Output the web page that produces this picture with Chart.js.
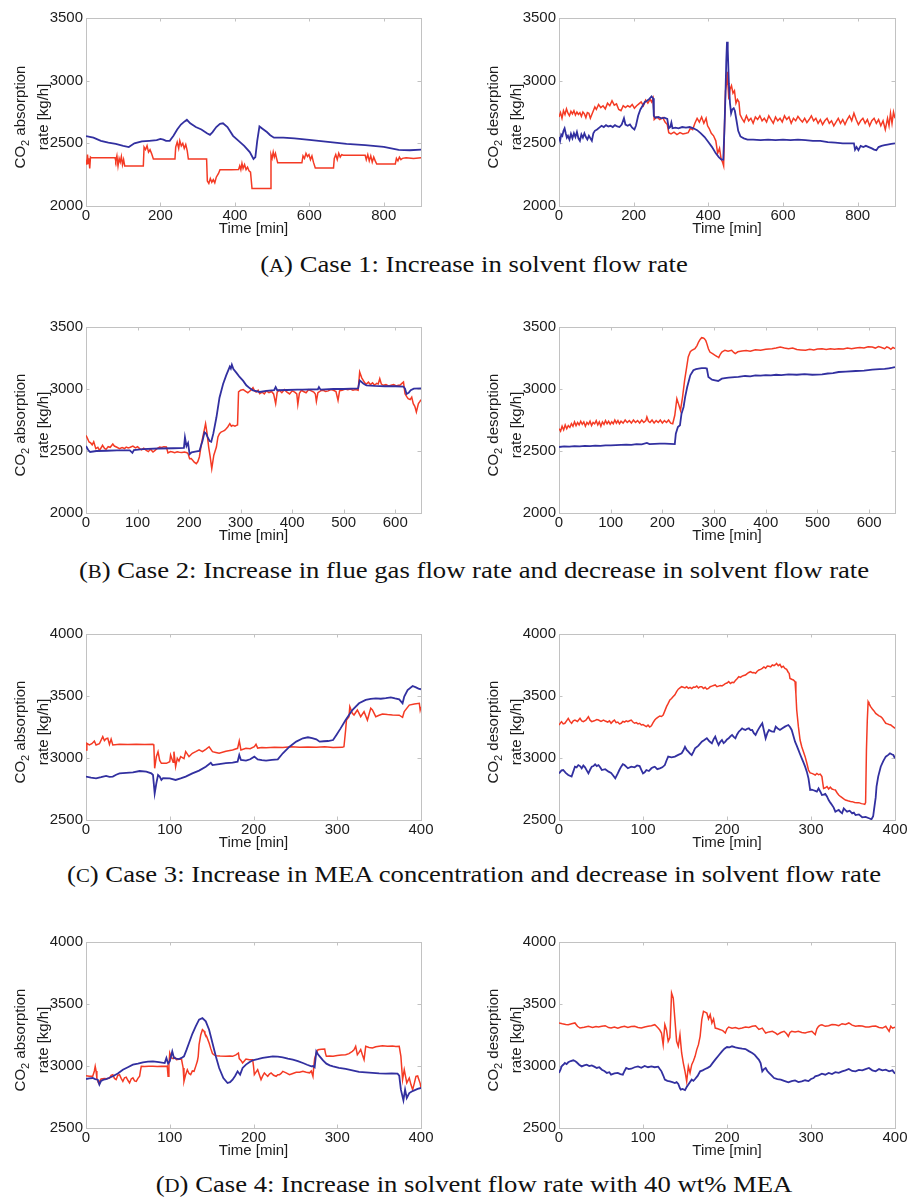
<!DOCTYPE html>
<html>
<head>
<meta charset="utf-8">
<script src="https://cdn.jsdelivr.net/npm/chart.js@4.4.0/dist/chart.umd.min.js"></script>
<style>
  html, body { margin: 0; padding: 0; background: #ffffff; }
  body { width: 909px; height: 1199px; position: relative; overflow: hidden; }
  canvas.panel { position: absolute; }
  .caption {
    position: absolute; left: 474px; transform: translateX(-50%) scaleX(1.16);
    white-space: nowrap; font-family: "Liberation Serif", "DejaVu Serif", serif;
    font-size: 23px; line-height: 23px; color: #111111;
  }
  .caption .sc { font-size: 0.78em; }
</style>
</head>
<body>
<div class="caption" id="capA" style="top:252.7px">(<span class="sc">A</span>) Case 1: Increase in solvent flow rate</div>
<div class="caption" id="capB" style="top:558.7px">(<span class="sc">B</span>) Case 2: Increase in flue gas flow rate and decrease in solvent flow rate</div>
<div class="caption" id="capC" style="top:862.7px">(<span class="sc">C</span>) Case 3: Increase in MEA concentration and decrease in solvent flow rate</div>
<div class="caption" id="capD" style="top:1172.7px">(<span class="sc">D</span>) Case 4: Increase in solvent flow rate with 40 wt% MEA</div>
<script>
// ---- time series: [time (min), CO2 rate (kg/h)] ----

// Case 1 – absorption
const case1AbsModel = [[0,2558],[20,2545],[40,2520],[60,2505],[80,2495],[100,2480],[115,2470],[130,2500],[150,2515],[170,2520],[190,2525],[200,2535],[208,2530],[215,2520],[225,2520],[235,2560],[245,2610],[255,2650],[265,2675],[271,2688],[280,2660],[295,2630],[310,2610],[325,2580],[333,2568],[340,2590],[350,2630],[360,2655],[368,2660],[380,2630],[395,2560],[410,2520],[425,2480],[440,2430],[450,2375],[455,2390],[460,2520],[466,2635],[475,2615],[486,2590],[495,2565],[505,2545],[530,2545],[560,2540],[600,2528],[650,2512],[700,2496],[750,2485],[800,2472],[820,2460],[840,2448],[870,2445],[900,2450]];
const case1AbsPlant = [[0,2370],[2,2330],[4,2410],[6,2340],[8,2380],[10,2300],[12,2390],[14,2385],[40,2385],[78,2385],[80,2360],[83,2400],[86,2320],[89,2380],[92,2350],[95,2395],[98,2330],[101,2370],[104,2320],[120,2320],[154,2320],[156,2470],[160,2450],[164,2480],[168,2430],[172,2450],[176,2420],[181,2375],[210,2375],[239,2375],[241,2470],[245,2510],[249,2460],[252,2520],[256,2480],[260,2500],[264,2460],[268,2490],[272,2440],[275,2375],[300,2375],[324,2375],[326,2200],[330,2180],[334,2220],[338,2190],[342,2210],[346,2185],[350,2230],[356,2260],[360,2290],[390,2290],[410,2292],[413,2320],[416,2290],[419,2340],[422,2300],[426,2330],[430,2290],[434,2310],[438,2280],[442,2270],[446,2140],[470,2140],[495,2140],[497,2410],[500,2380],[503,2430],[506,2390],[509,2420],[512,2380],[515,2345],[545,2345],[580,2345],[583,2400],[587,2380],[591,2420],[595,2395],[599,2410],[603,2370],[607,2400],[611,2350],[616,2304],[640,2304],[665,2304],[667,2380],[671,2410],[675,2370],[679,2420],[683,2390],[687,2410],[691,2405],[720,2405],[750,2405],[753,2370],[757,2410],[761,2360],[765,2400],[769,2350],[773,2390],[777,2360],[781,2335],[810,2335],[831,2335],[834,2380],[838,2360],[842,2390],[846,2370],[850,2380],[860,2385],[880,2380],[900,2385]];

// Case 1 – desorption
const case1DesModel = [[0,2550],[3,2520],[6,2570],[9,2560],[12,2600],[15,2620],[18,2580],[21,2545],[24,2560],[28,2530],[32,2575],[36,2540],[40,2580],[44,2550],[48,2590],[52,2540],[56,2520],[60,2570],[64,2545],[68,2580],[72,2550],[76,2530],[80,2560],[84,2540],[88,2520],[92,2580],[96,2600],[102,2610],[108,2625],[114,2640],[120,2630],[126,2645],[132,2635],[138,2640],[144,2630],[150,2645],[156,2635],[162,2630],[168,2650],[174,2700],[178,2650],[184,2640],[190,2650],[196,2625],[202,2610],[206,2640],[212,2720],[218,2770],[224,2800],[230,2830],[236,2840],[242,2855],[248,2875],[252,2860],[254,2720],[258,2705],[266,2710],[274,2700],[282,2705],[290,2695],[294,2620],[298,2630],[301,2665],[304,2620],[312,2625],[320,2620],[330,2630],[340,2625],[350,2630],[360,2620],[370,2605],[380,2580],[390,2550],[400,2510],[410,2470],[420,2420],[428,2390],[435,2370],[440,2370],[443,2600],[446,2900],[448,3150],[450,3310],[452,3250],[455,2980],[458,2820],[461,2740],[464,2770],[468,2780],[471,2760],[475,2690],[480,2600],[486,2555],[495,2540],[505,2530],[520,2530],[540,2525],[560,2530],[580,2525],[600,2530],[620,2525],[640,2530],[660,2525],[680,2520],[700,2520],[720,2510],[740,2505],[760,2500],[780,2500],[790,2500],[793,2450],[797,2470],[802,2445],[808,2480],[815,2470],[822,2480],[830,2470],[838,2460],[844,2450],[850,2445],[856,2470],[864,2480],[872,2485],[880,2490],[890,2495],[900,2500]];
const case1DesPlant = [[0,2710],[4,2745],[8,2700],[12,2760],[16,2730],[20,2775],[24,2740],[28,2720],[32,2755],[36,2735],[40,2760],[44,2725],[48,2750],[52,2730],[56,2745],[60,2715],[64,2750],[68,2735],[72,2705],[76,2745],[80,2740],[84,2700],[88,2730],[92,2760],[96,2790],[100,2770],[106,2810],[112,2785],[118,2800],[124,2775],[130,2820],[136,2800],[142,2840],[148,2805],[154,2815],[160,2770],[166,2760],[172,2800],[178,2785],[184,2800],[190,2790],[196,2810],[202,2780],[208,2800],[214,2815],[220,2830],[226,2800],[232,2845],[238,2820],[244,2850],[248,2830],[252,2860],[255,2690],[262,2710],[270,2690],[278,2705],[284,2670],[290,2650],[294,2585],[300,2575],[308,2590],[316,2570],[324,2585],[332,2575],[340,2580],[346,2585],[352,2620],[358,2610],[364,2660],[370,2700],[376,2670],[382,2710],[388,2660],[394,2700],[398,2640],[402,2620],[408,2580],[414,2560],[420,2520],[425,2420],[430,2460],[434,2380],[438,2350],[441,2320],[443,2600],[446,2920],[449,2980],[451,3070],[453,2950],[455,2850],[458,2930],[462,2960],[466,2900],[470,2920],[474,2820],[478,2850],[482,2830],[485,2730],[490,2700],[496,2670],[502,2720],[508,2680],[514,2700],[520,2660],[526,2710],[532,2690],[538,2720],[544,2680],[550,2700],[556,2670],[562,2720],[568,2690],[574,2660],[580,2710],[586,2680],[592,2700],[598,2670],[604,2720],[610,2690],[616,2710],[622,2660],[628,2700],[634,2680],[640,2715],[646,2690],[652,2670],[658,2700],[664,2665],[670,2690],[676,2720],[682,2680],[688,2700],[694,2660],[700,2690],[706,2650],[712,2680],[718,2700],[724,2660],[730,2680],[736,2640],[742,2670],[748,2700],[754,2660],[760,2690],[766,2650],[772,2690],[778,2720],[784,2680],[790,2740],[796,2690],[802,2650],[808,2680],[814,2700],[820,2660],[826,2690],[832,2640],[838,2680],[844,2700],[850,2660],[856,2690],[862,2640],[868,2680],[874,2610],[880,2700],[884,2640],[888,2740],[892,2660],[896,2750],[900,2700]];

// Case 2 – absorption
const case2AbsModel = [[0,2540],[4,2510],[8,2492],[20,2500],[40,2502],[60,2505],[85,2505],[90,2485],[93,2508],[110,2515],[140,2520],[170,2522],[190,2525],[192,2610],[195,2540],[198,2565],[201,2475],[205,2490],[212,2495],[220,2500],[226,2580],[230,2650],[233,2640],[236,2612],[240,2580],[243,2575],[247,2640],[253,2770],[259,2930],[266,3040],[272,3110],[276,3150],[279,3180],[281,3165],[283,3195],[286,3160],[292,3130],[298,3097],[305,3065],[311,3030],[318,3005],[324,2989],[337,2976],[350,2985],[365,2990],[368,3015],[371,2990],[390,2992],[410,2995],[420,2995],[450,2998],[452,3015],[455,2995],[480,3000],[500,3000],[528,3005],[531,3070],[538,3045],[544,3030],[560,3025],[580,3022],[600,3022],[616,3020],[619,3003],[622,2960],[626,2970],[630,2990],[636,3003],[650,3005]];
const case2AbsPlant = [[0,2626],[3,2600],[6,2573],[9,2565],[12,2550],[15,2575],[19,2519],[23,2530],[26,2505],[30,2530],[32,2546],[36,2520],[39,2513],[43,2535],[47,2530],[52,2556],[55,2540],[60,2530],[65,2519],[70,2528],[75,2520],[78,2532],[82,2525],[86,2530],[91,2540],[96,2525],[100,2535],[104,2519],[108,2510],[112,2522],[117,2505],[121,2495],[125,2515],[130,2492],[134,2505],[138,2520],[143,2532],[147,2528],[151,2535],[156,2532],[159,2484],[164,2495],[168,2492],[172,2486],[177,2494],[181,2490],[186,2488],[191,2492],[196,2486],[198,2479],[201,2438],[204,2440],[207,2425],[210,2410],[214,2398],[217,2415],[220,2452],[224,2559],[228,2640],[232,2720],[235,2640],[238,2532],[241,2452],[244,2358],[248,2466],[253,2532],[256,2613],[259,2640],[262,2653],[266,2660],[269,2667],[272,2680],[275,2694],[279,2720],[282,2700],[285,2707],[289,2700],[292,2707],[294,2710],[296,2976],[300,2990],[305,2995],[310,2980],[314,2970],[318,2984],[321,2995],[324,3011],[327,2985],[330,2976],[334,2990],[337,2962],[342,2975],[346,2960],[350,2985],[355,2970],[360,2980],[364,2960],[368,2882],[371,2975],[375,2990],[380,2970],[385,2995],[390,2975],[395,2960],[400,2985],[405,2975],[409,2960],[411,2876],[414,2965],[418,2990],[422,2980],[427,2970],[432,2995],[437,2985],[442,2975],[445,2960],[447,2900],[450,2970],[455,2985],[460,2990],[465,2980],[470,2985],[475,2995],[480,2990],[485,2980],[489,2909],[492,2985],[497,2990],[503,3000],[508,2995],[513,3000],[518,2990],[523,2995],[528,2990],[531,3137],[535,3090],[538,3070],[541,3050],[544,3040],[548,3055],[552,3035],[556,3050],[560,3030],[564,3045],[567,3040],[570,3083],[573,3040],[577,3030],[582,3035],[587,3025],[592,3030],[597,3035],[602,3025],[606,3030],[609,3030],[613,3045],[616,3056],[619,2962],[622,2940],[625,2922],[629,2915],[632,2935],[635,2882],[638,2860],[641,2815],[645,2882],[648,2900],[650,2914]];

// Case 2 – desorption
const case2DesModel = [[0,2532],[10,2538],[20,2536],[30,2540],[40,2538],[50,2542],[60,2540],[70,2544],[80,2542],[90,2546],[100,2546],[110,2548],[120,2550],[130,2552],[140,2550],[150,2556],[160,2554],[170,2565],[175,2555],[185,2558],[195,2560],[205,2560],[215,2558],[224,2556],[226,2640],[230,2694],[234,2707],[237,2801],[241,2855],[244,2935],[248,3016],[254,3110],[260,3151],[265,3160],[270,3164],[276,3168],[283,3169],[286,3165],[289,3097],[296,3075],[302,3070],[308,3065],[315,3083],[321,3088],[328,3091],[340,3095],[347,3097],[360,3105],[370,3102],[380,3110],[390,3108],[400,3112],[410,3110],[420,3115],[430,3112],[444,3118],[460,3115],[475,3120],[490,3115],[509,3118],[520,3125],[530,3128],[541,3137],[555,3140],[574,3145],[590,3148],[606,3156],[620,3160],[630,3162],[638,3167],[645,3172],[650,3177]];
const case2DesPlant = [[0,2680],[3,2660],[6,2700],[9,2670],[12,2710],[15,2680],[18,2705],[21,2690],[24,2720],[27,2700],[30,2735],[33,2705],[36,2730],[39,2710],[42,2740],[45,2715],[48,2735],[51,2700],[54,2730],[57,2715],[60,2740],[63,2705],[66,2730],[69,2720],[72,2745],[75,2710],[78,2735],[81,2700],[84,2735],[87,2715],[90,2745],[93,2720],[96,2740],[99,2715],[102,2735],[105,2720],[108,2750],[111,2725],[114,2745],[117,2720],[120,2740],[124,2725],[128,2750],[132,2730],[136,2745],[140,2725],[144,2750],[148,2730],[152,2745],[156,2725],[160,2750],[164,2730],[168,2745],[170,2775],[173,2740],[176,2730],[180,2750],[184,2725],[188,2745],[192,2730],[196,2750],[200,2725],[204,2745],[208,2730],[212,2750],[216,2725],[220,2720],[224,2788],[228,2922],[231,2882],[235,2828],[239,2935],[243,3070],[247,3177],[250,3258],[254,3300],[257,3312],[263,3325],[267,3350],[270,3379],[273,3400],[276,3414],[279,3412],[281,3406],[284,3390],[286,3366],[289,3325],[292,3298],[297,3285],[302,3272],[306,3262],[309,3253],[312,3280],[315,3298],[318,3305],[321,3312],[327,3305],[334,3312],[338,3295],[341,3285],[346,3300],[354,3306],[362,3310],[370,3305],[380,3317],[390,3312],[400,3320],[412,3325],[420,3330],[428,3339],[436,3330],[444,3325],[452,3330],[460,3318],[468,3315],[477,3312],[485,3320],[493,3315],[500,3322],[509,3325],[517,3318],[525,3325],[533,3320],[541,3325],[550,3322],[558,3330],[566,3325],[574,3330],[582,3335],[590,3330],[598,3340],[606,3339],[612,3330],[618,3342],[624,3335],[630,3325],[634,3340],[638,3333],[642,3320],[646,3335],[650,3325]];

// Case 3 – absorption
const case3AbsModel = [[0,2850],[6,2842],[12,2836],[18,2845],[24,2855],[28,2848],[32,2850],[36,2865],[40,2876],[48,2880],[56,2884],[64,2895],[72,2890],[78,2876],[80,2863],[82,2715],[84,2796],[86,2863],[88,2850],[90,2823],[92,2838],[100,2836],[107,2823],[113,2836],[119,2850],[127,2876],[135,2898],[143,2930],[149,2962],[151,2943],[159,2951],[167,2958],[175,2962],[181,2970],[183,3024],[185,2984],[191,2979],[196,2990],[201,3011],[205,2989],[210,2982],[215,2979],[222,2985],[229,2989],[235,3038],[243,3091],[251,3132],[259,3159],[265,3167],[270,3160],[275,3151],[279,3132],[284,3135],[289,3137],[295,3145],[299,3186],[304,3239],[310,3306],[318,3387],[326,3441],[334,3468],[340,3476],[346,3481],[352,3478],[358,3483],[364,3489],[369,3480],[374,3473],[378,3441],[380,3495],[384,3548],[390,3581],[394,3570],[397,3560],[400,3554]];
const case3AbsPlant = [[0,3065],[1,3118],[4,3105],[7,3115],[10,3137],[12,3105],[16,3115],[20,3172],[22,3140],[24,3155],[26,3159],[28,3110],[30,3153],[32,3105],[40,3110],[50,3108],[60,3110],[70,3108],[80,3110],[81,3100],[82,2917],[84,3011],[86,3051],[88,2980],[90,2957],[96,2957],[100,2970],[101,3024],[104,2965],[105,3051],[107,2930],[109,2997],[111,2975],[113,3011],[117,2995],[119,3051],[123,3011],[127,3038],[131,3051],[135,3065],[139,3051],[143,3070],[147,3091],[151,3051],[155,3045],[159,3038],[167,3055],[175,3065],[181,3078],[183,3137],[185,3065],[191,3078],[196,3075],[201,3091],[203,3110],[205,3080],[210,3085],[215,3082],[225,3086],[235,3084],[245,3090],[255,3086],[265,3088],[275,3086],[285,3090],[295,3085],[306,3086],[308,3091],[310,3226],[311,3306],[314,3333],[315,3414],[318,3360],[320,3347],[324,3387],[328,3333],[332,3374],[336,3306],[340,3401],[342,3387],[346,3333],[350,3345],[354,3355],[360,3350],[366,3347],[374,3345],[378,3328],[380,3374],[386,3427],[392,3436],[398,3441],[399,3387],[400,3414]];

// Case 3 – desorption
const case3DesModel = [[0,2876],[3,2900],[5,2903],[8,2880],[11,2863],[15,2850],[17,2890],[19,2930],[21,2925],[23,2943],[25,2935],[27,2917],[29,2940],[31,2925],[33,2900],[35,2876],[37,2905],[39,2930],[41,2935],[43,2949],[45,2935],[47,2943],[49,2925],[51,2903],[55,2910],[59,2890],[62,2880],[64,2863],[67,2836],[70,2876],[72,2905],[74,2930],[76,2950],[78,2943],[80,2930],[82,2917],[86,2930],[90,2925],[93,2940],[96,2935],[98,2905],[100,2876],[102,2885],[104,2903],[107,2895],[110,2917],[112,2925],[114,2930],[117,2910],[120,2917],[123,2925],[126,2943],[128,2980],[130,3011],[134,3005],[138,3011],[142,3025],[146,3038],[148,3060],[150,3091],[152,3065],[154,3051],[156,3035],[158,3024],[160,3050],[162,3078],[166,3100],[170,3132],[173,3145],[176,3159],[179,3135],[182,3118],[184,3150],[186,3172],[188,3135],[190,3105],[192,3130],[194,3145],[196,3120],[198,3132],[200,3150],[202,3159],[204,3175],[206,3186],[208,3170],[210,3159],[212,3190],[214,3212],[216,3225],[218,3239],[220,3230],[222,3226],[224,3235],[226,3239],[228,3225],[230,3226],[232,3200],[234,3186],[236,3215],[238,3239],[240,3260],[242,3280],[244,3220],[246,3159],[248,3200],[250,3226],[253,3215],[256,3212],[258,3253],[260,3240],[263,3226],[266,3240],[269,3253],[271,3260],[273,3266],[275,3250],[277,3226],[279,3180],[281,3132],[283,3100],[285,3065],[287,3030],[289,2997],[291,2965],[293,2930],[295,2890],[297,2836],[299,2742],[301,2745],[303,2740],[305,2735],[307,2729],[309,2755],[311,2730],[313,2702],[315,2705],[317,2710],[319,2690],[321,2661],[323,2640],[325,2621],[327,2600],[329,2567],[331,2575],[333,2581],[335,2565],[337,2554],[339,2594],[341,2580],[343,2567],[346,2575],[349,2554],[351,2560],[353,2540],[357,2545],[361,2522],[365,2525],[369,2514],[372,2506],[374,2530],[375,2581],[377,2680],[378,2769],[380,2850],[383,2930],[386,2975],[389,3011],[392,3025],[394,3038],[396,3030],[398,3024],[400,2997]];
const case3DesPlant = [[0,3266],[2,3285],[3,3293],[5,3275],[7,3280],[9,3300],[11,3320],[13,3295],[15,3280],[17,3300],[19,3306],[22,3295],[25,3320],[27,3300],[29,3293],[32,3305],[35,3333],[37,3305],[39,3293],[42,3300],[45,3310],[47,3306],[50,3295],[53,3305],[55,3298],[58,3290],[60,3300],[62,3280],[64,3295],[66,3306],[68,3285],[70,3290],[72,3275],[74,3280],[76,3295],[78,3290],[80,3300],[82,3293],[84,3300],[86,3306],[88,3290],[90,3280],[92,3285],[94,3275],[96,3280],[98,3266],[100,3270],[102,3262],[104,3253],[106,3265],[108,3250],[110,3260],[112,3285],[114,3306],[116,3320],[118,3330],[120,3339],[122,3335],[124,3347],[126,3380],[128,3414],[130,3440],[132,3468],[134,3480],[136,3495],[138,3510],[140,3535],[142,3555],[144,3565],[146,3575],[148,3570],[150,3565],[152,3575],[154,3562],[156,3570],[158,3560],[160,3572],[162,3570],[164,3580],[166,3565],[168,3575],[170,3575],[172,3560],[174,3570],[176,3555],[178,3562],[180,3575],[182,3580],[184,3585],[186,3589],[188,3575],[190,3580],[192,3585],[194,3581],[196,3590],[198,3600],[200,3605],[202,3616],[204,3600],[206,3610],[208,3608],[210,3625],[212,3640],[214,3656],[216,3650],[218,3660],[220,3665],[222,3669],[224,3680],[226,3690],[228,3696],[230,3688],[232,3690],[234,3683],[236,3700],[238,3710],[240,3715],[242,3723],[244,3735],[246,3725],[248,3742],[250,3740],[252,3735],[254,3750],[256,3745],[258,3755],[259,3763],[261,3745],[263,3755],[265,3731],[267,3740],[269,3723],[271,3715],[273,3690],[274,3683],[275,3642],[277,3635],[279,3629],[281,3616],[282,3520],[283,3387],[285,3253],[287,3145],[289,3091],[291,3050],[293,3011],[295,2960],[297,2903],[299,2880],[301,2876],[303,2870],[305,2863],[307,2875],[309,2865],[311,2870],[313,2850],[314,2800],[315,2755],[317,2760],[319,2769],[321,2750],[323,2765],[325,2750],[327,2745],[329,2742],[331,2720],[333,2702],[335,2690],[337,2680],[339,2670],[341,2661],[344,2655],[347,2650],[349,2648],[352,2642],[355,2640],[357,2640],[360,2632],[362,2630],[364,2626],[365,2640],[366,3065],[367,3300],[368,3454],[369,3440],[371,3414],[373,3395],[375,3380],[377,3360],[379,3350],[381,3340],[383,3333],[385,3320],[387,3300],[389,3280],[391,3275],[393,3270],[395,3266],[397,3255],[399,3245],[400,3239]];

// Case 4 – absorption
const case4AbsModel = [[0,2895],[4,2900],[8,2903],[11,2895],[14,2890],[16,2850],[18,2880],[21,2890],[24,2895],[28,2905],[32,2917],[38,2940],[44,2970],[50,2990],[56,3011],[62,3020],[68,3030],[74,3035],[80,3038],[87,3032],[94,3024],[96,3065],[98,3020],[100,3038],[103,3118],[105,3065],[108,3060],[111,3056],[114,3065],[117,3078],[120,3130],[123,3186],[127,3260],[131,3320],[135,3374],[139,3387],[143,3360],[147,3293],[151,3186],[155,3078],[159,2984],[164,2903],[169,2863],[172,2870],[175,2890],[178,2920],[181,2957],[184,2930],[187,2984],[191,3011],[195,3030],[199,3046],[205,3055],[211,3065],[217,3072],[223,3078],[229,3075],[235,3070],[241,3060],[247,3051],[253,3040],[259,3024],[264,3010],[269,2997],[271,3000],[273,2990],[275,3118],[277,3095],[279,3078],[283,3045],[287,3019],[291,3005],[295,2997],[302,2985],[310,2976],[318,2965],[326,2952],[334,2948],[342,2944],[350,2940],[358,2938],[365,2940],[372,2938],[374,2922],[376,2809],[379,2723],[381,2809],[383,2742],[386,2782],[389,2795],[392,2804],[396,2815],[400,2823]];
const case4AbsPlant = [[0,2922],[4,2918],[8,2917],[10,2960],[11,2997],[12,2960],[13,2900],[15,2863],[18,2895],[22,2900],[25,2898],[28,2903],[30,2925],[32,2930],[34,2900],[36,2890],[38,2925],[40,2930],[42,2900],[44,2876],[46,2905],[48,2910],[50,2885],[52,2863],[54,2895],[56,2905],[58,2880],[60,2876],[62,2900],[64,2917],[65,2960],[66,2997],[70,2995],[75,2998],[80,2997],[85,2995],[90,2998],[96,2997],[97,3000],[98,2917],[99,3010],[100,3105],[102,3065],[104,3060],[106,3070],[108,3051],[111,3055],[114,3056],[116,2984],[117,2876],[119,2930],[121,2970],[123,2940],[125,2930],[127,2960],[129,2957],[131,2997],[133,3040],[134,3078],[135,3172],[137,3250],[139,3293],[141,3280],[142,3260],[144,3239],[147,3186],[149,3140],[151,3100],[153,3090],[155,3083],[160,3080],[167,3078],[172,3080],[175,3078],[179,3090],[182,3105],[183,3060],[185,3045],[187,3024],[189,3040],[191,3056],[195,3050],[199,3051],[200,3000],[201,2930],[203,2950],[205,2970],[207,2930],[209,2890],[211,2920],[213,2944],[215,2930],[217,2917],[219,2935],[221,2944],[224,2925],[227,2917],[229,2930],[231,2930],[233,2940],[235,2957],[239,2945],[243,2930],[247,2940],[251,2949],[255,2950],[259,2957],[263,2950],[267,2945],[269,2960],[271,2917],[272,2997],[273,3060],[275,3105],[277,3132],[281,3135],[285,3137],[286,3100],[287,3078],[291,3080],[295,3078],[300,3085],[305,3088],[310,3091],[314,3100],[318,3118],[320,3130],[322,3159],[324,3091],[326,3110],[328,3132],[330,3090],[332,3051],[334,3159],[338,3150],[342,3145],[346,3155],[350,3160],[354,3164],[360,3160],[366,3162],[370,3158],[374,3159],[376,3078],[378,2890],[380,2970],[382,2900],[383,2863],[385,2890],[386,2903],[388,2850],[390,2809],[392,2860],[394,2917],[396,2920],[397,2900],[399,2860],[400,2823]];

// Case 4 – desorption
const case4DesModel = [[0,2944],[2,2975],[3,2997],[5,3010],[7,3024],[9,3015],[11,3030],[14,3040],[17,3046],[19,3040],[21,3030],[24,3010],[27,2997],[30,3005],[33,3011],[36,3000],[39,3005],[42,2995],[45,2984],[48,2990],[51,2970],[54,2960],[57,2944],[60,2950],[62,2930],[66,2940],[70,2944],[73,2935],[76,2930],[78,2960],[80,2984],[83,2975],[86,2978],[90,2990],[94,2997],[98,2985],[102,3000],[106,2990],[110,2997],[114,2990],[118,2995],[120,2975],[122,2957],[124,2925],[126,2890],[129,2880],[132,2876],[135,2870],[138,2863],[140,2870],[142,2855],[144,2820],[145,2809],[147,2815],[150,2805],[152,2830],[154,2850],[156,2870],[158,2890],[160,2880],[162,2895],[165,2920],[168,2957],[171,2965],[174,2976],[177,2985],[180,2997],[183,3025],[186,3051],[190,3085],[194,3118],[197,3140],[200,3153],[203,3150],[206,3159],[210,3150],[214,3145],[218,3140],[222,3137],[226,3120],[230,3105],[233,3090],[236,3065],[238,3050],[240,3024],[242,2957],[244,2975],[246,2984],[248,2960],[250,2944],[253,2925],[256,2903],[260,2895],[264,2890],[268,2880],[273,2868],[277,2878],[281,2884],[285,2870],[289,2876],[293,2885],[297,2878],[300,2895],[303,2903],[305,2917],[309,2925],[313,2938],[317,2930],[321,2944],[325,2935],[329,2950],[333,2945],[337,2957],[341,2965],[345,2976],[349,2960],[353,2957],[357,2968],[361,2965],[365,2975],[369,2984],[373,2965],[377,2957],[381,2975],[385,2965],[389,2970],[393,2957],[397,2965],[400,2938]];
const case4DesPlant = [[0,3347],[4,3340],[8,3335],[11,3333],[15,3340],[19,3347],[22,3320],[25,3306],[30,3312],[35,3320],[40,3310],[44,3318],[47,3314],[51,3320],[55,3325],[59,3310],[62,3306],[66,3315],[70,3305],[74,3314],[78,3320],[82,3310],[86,3318],[90,3320],[94,3310],[98,3306],[102,3315],[106,3320],[110,3325],[114,3333],[116,3320],[118,3306],[120,3290],[122,3266],[124,3172],[126,3333],[128,3290],[130,3199],[132,3230],[134,3589],[136,3548],[138,3374],[140,3199],[142,3159],[144,3253],[146,3105],[148,3024],[150,2957],[152,2876],[154,2997],[156,2944],[158,3011],[160,3040],[162,3078],[164,3132],[166,3172],[168,3239],[170,3374],[172,3441],[174,3435],[176,3427],[178,3380],[180,3414],[182,3347],[184,3380],[186,3306],[189,3300],[192,3293],[195,3285],[198,3266],[200,3300],[202,3314],[206,3305],[210,3310],[214,3300],[218,3306],[222,3315],[226,3310],[230,3320],[234,3325],[238,3295],[242,3306],[244,3285],[246,3266],[250,3275],[254,3280],[258,3265],[260,3253],[264,3270],[268,3280],[271,3260],[273,3239],[275,3270],[277,3280],[281,3275],[285,3280],[289,3270],[293,3266],[297,3275],[301,3280],[305,3253],[307,3300],[309,3320],[311,3330],[313,3333],[317,3320],[321,3325],[325,3335],[329,3333],[333,3325],[337,3341],[341,3335],[345,3347],[349,3330],[353,3320],[357,3325],[361,3322],[365,3315],[369,3314],[373,3320],[377,3322],[381,3310],[385,3306],[389,3320],[391,3300],[393,3280],[395,3320],[397,3305],[400,3314]];

// ---- axis settings ----
const timeRanges = [900, 650, 400, 400];        // x max per case
const timeSteps  = [200, 100, 100, 100];        // x tick spacing per case
const rateRanges = [[2000, 3500], [2000, 3500], [2500, 4000], [2500, 4000]];
const rateStep = 500;
const rateTitles = [['CO', '2', ' absorption'], ['CO', '2', ' desorption']];
const rateUnitLine = 'rate [kg/h]';
const timeTitle = 'Time [min]';

// ---- page layout (pixels) ----
const ROWS = [{ top: 18, bottom: 206 }, { top: 327, bottom: 513 }, { top: 634, bottom: 820 }, { top: 942, bottom: 1128 }];
const COLS = [{ left: 0, width: 455, plotL: 86, plotR: 421 }, { left: 455, width: 454, plotL: 559, plotR: 895 }];

const BLUE = 'rgb(50,48,160)';
const RED = 'rgb(244,58,36)';
const FONT = '"Liberation Sans", Arial, "DejaVu Sans", sans-serif';
const TEXT = '#1c1c1c';
const FRAME = '#c2c2c2';

// Light box around the plot with short inward tick marks on all four sides
const framePlugin = {
  id: 'frameTicks',
  beforeDatasetsDraw(chart) {
    const { ctx, chartArea: a, scales } = chart;
    const len = 3.5;
    ctx.save();
    ctx.strokeStyle = FRAME;
    ctx.lineWidth = 1;
    ctx.strokeRect(Math.round(a.left) + 0.5, Math.round(a.top) + 0.5,
                   Math.round(a.right - a.left), Math.round(a.bottom - a.top));
    ctx.beginPath();
    scales.x.ticks.forEach(t => {
      const px = Math.round(scales.x.getPixelForValue(t.value)) + 0.5;
      if (px <= a.left + 1 || px >= a.right - 1) return;
      ctx.moveTo(px, a.bottom); ctx.lineTo(px, a.bottom - len);
      ctx.moveTo(px, a.top); ctx.lineTo(px, a.top + len);
    });
    scales.y.ticks.forEach(t => {
      const py = Math.round(scales.y.getPixelForValue(t.value)) + 0.5;
      if (py <= a.top + 1 || py >= a.bottom - 1) return;
      ctx.moveTo(a.left, py); ctx.lineTo(a.left + len, py);
      ctx.moveTo(a.right, py); ctx.lineTo(a.right - len, py);
    });
    ctx.stroke();
    ctx.restore();
  }
};

// Axis titles: "Time [min]" below, and the two-line rotated rate label with a subscript 2
const axisTextPlugin = {
  id: 'axisText',
  afterDraw(chart, args, opts) {
    const { ctx, chartArea: a } = chart;
    ctx.save();
    ctx.fillStyle = TEXT;
    ctx.font = '15px ' + FONT;
    ctx.textAlign = 'center';
    ctx.textBaseline = 'middle';
    ctx.fillText(opts.xTitle, (a.left + a.right) / 2, a.bottom + 23);

    const cy = (a.top + a.bottom) / 2 + 5;
    // second line
    ctx.save();
    ctx.translate(a.left - 38, cy);
    ctx.rotate(-Math.PI / 2);
    ctx.textBaseline = 'alphabetic';
    ctx.textAlign = 'center';
    ctx.fillText(opts.unitLine, 0, 0);
    ctx.restore();
    // first line with subscript
    const parts = [
      { s: opts.titleParts[0], size: 15, dy: 0 },
      { s: opts.titleParts[1], size: 11, dy: 4 },
      { s: opts.titleParts[2], size: 15, dy: 0 }
    ];
    let total = 0;
    parts.forEach(p => { ctx.font = p.size + 'px ' + FONT; p.w = ctx.measureText(p.s).width; total += p.w; });
    ctx.save();
    ctx.translate(a.left - 61.5, cy);
    ctx.rotate(-Math.PI / 2);
    ctx.textBaseline = 'alphabetic';
    ctx.textAlign = 'left';
    let x = -total / 2;
    parts.forEach(p => { ctx.font = p.size + 'px ' + FONT; ctx.fillText(p.s, x, p.dy); x += p.w; });
    ctx.restore();
    ctx.restore();
  }
};

const panels = [
  { row: 0, col: 0, model: case1AbsModel, plant: case1AbsPlant },
  { row: 0, col: 1, model: case1DesModel, plant: case1DesPlant },
  { row: 1, col: 0, model: case2AbsModel, plant: case2AbsPlant },
  { row: 1, col: 1, model: case2DesModel, plant: case2DesPlant },
  { row: 2, col: 0, model: case3AbsModel, plant: case3AbsPlant },
  { row: 2, col: 1, model: case3DesModel, plant: case3DesPlant },
  { row: 3, col: 0, model: case4AbsModel, plant: case4AbsPlant },
  { row: 3, col: 1, model: case4DesModel, plant: case4DesPlant }
];

function buildPanel(p) {
  const row = ROWS[p.row], col = COLS[p.col];
  const padTop = 18;
  const plotH = row.bottom - row.top;
  const canvasH = plotH + padTop + 44;
  const cv = document.createElement('canvas');
  cv.className = 'panel';
  cv.width = col.width; cv.height = canvasH;
  cv.style.left = col.left + 'px';
  cv.style.top = (row.top - padTop) + 'px';
  cv.style.width = col.width + 'px';
  cv.style.height = canvasH + 'px';
  document.body.appendChild(cv);

  const tickFont = { family: FONT, size: 15 };
  const [yMin, yMax] = rateRanges[p.row];

  new Chart(cv, {
    type: 'line',
    data: {
      datasets: [
        { data: p.model, borderColor: BLUE, borderWidth: 1.8, pointRadius: 0, tension: 0, fill: false },
        { data: p.plant, borderColor: RED, borderWidth: 1.5, pointRadius: 0, tension: 0, fill: false }
      ]
    },
    options: {
      responsive: false,
      animation: false,
      devicePixelRatio: 1,
      events: [],
      layout: { padding: { left: 0, top: padTop, bottom: 0, right: col.left + col.width - col.plotR } },
      scales: {
        x: {
          type: 'linear', min: 0, max: timeRanges[p.row],
          grid: { display: false, drawTicks: false }, border: { display: false },
          ticks: { stepSize: timeSteps[p.row], includeBounds: false, autoSkip: false, maxRotation: 0,
                   padding: 1, color: TEXT, font: tickFont, callback: v => String(v) },
          afterFit: s => { s.height = canvasH - padTop - plotH; }
        },
        y: {
          type: 'linear', min: yMin, max: yMax,
          grid: { display: false, drawTicks: false }, border: { display: false },
          ticks: { stepSize: rateStep, autoSkip: false, padding: 3, color: TEXT, font: tickFont, callback: v => String(v) },
          afterFit: s => { s.width = col.plotL - col.left; }
        }
      },
      plugins: {
        legend: { display: false },
        tooltip: { enabled: false },
        axisText: { xTitle: timeTitle, unitLine: rateUnitLine, titleParts: rateTitles[p.col] }
      }
    },
    plugins: [framePlugin, axisTextPlugin]
  });
}

panels.forEach(buildPanel);
</script>
</body>
</html>
